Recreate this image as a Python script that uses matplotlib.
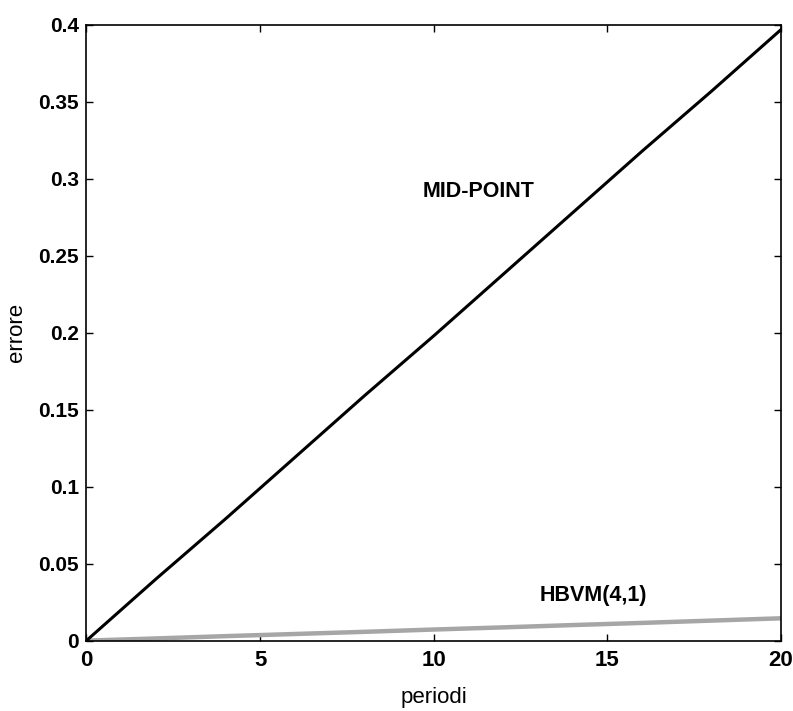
import matplotlib
matplotlib.use("Agg")
import matplotlib.pyplot as plt

periods = [0, 2, 4, 6, 8, 10, 12, 14, 16, 18, 20]
midpoint_err = [0.0, 0.040, 0.079, 0.119, 0.159, 0.198, 0.238, 0.278, 0.318, 0.357, 0.397]
hbvm_err = [0.0, 0.0014, 0.0029, 0.0043, 0.0057, 0.0072, 0.0086, 0.0101, 0.0115, 0.0130, 0.0145]
xticks = [0, 5, 10, 15, 20]
yticks = [0, 0.05, 0.1, 0.15, 0.2, 0.25, 0.3, 0.35, 0.4]
ytick_labels = ["0", "0.05", "0.1", "0.15", "0.2", "0.25", "0.3", "0.35", "0.4"]

plt.rcParams['font.family'] = ['Liberation Sans', 'DejaVu Sans']

fig = plt.figure(figsize=(7.93, 7.11), dpi=100)
ax = fig.add_axes([0.109, 0.099, 0.876, 0.866])

ax.plot(periods, hbvm_err, color='#a6a6a6', lw=3.2, solid_capstyle='butt')
ax.plot(periods, midpoint_err, color='black', lw=2.2)

ax.set_xlim(0, 20)
ax.set_ylim(0, 0.4)
ax.set_xticks(xticks)
ax.set_xticklabels([str(t) for t in xticks], fontsize=16, fontweight='bold')
ax.set_yticks(yticks)
ax.set_yticklabels(ytick_labels, fontsize=15, fontweight='bold')
ax.tick_params(direction='in', top=True, right=True, length=5, width=1)
ax.tick_params(axis='x', pad=7)
ax.tick_params(axis='y', pad=5.5)
for s in ax.spines.values():
    s.set_linewidth(1.2)

ax.set_xlabel("periodi", fontsize=16, labelpad=11)
ax.set_ylabel("errore", fontsize=16, labelpad=8)

ax.text(11.3, 0.2915, "MID-POINT", fontsize=15.5, fontweight='bold', ha='center', va='center')
ax.text(14.6, 0.029, "HBVM(4,1)", fontsize=15.5, fontweight='bold', ha='center', va='center')

fig.savefig("out.png", dpi=100)
